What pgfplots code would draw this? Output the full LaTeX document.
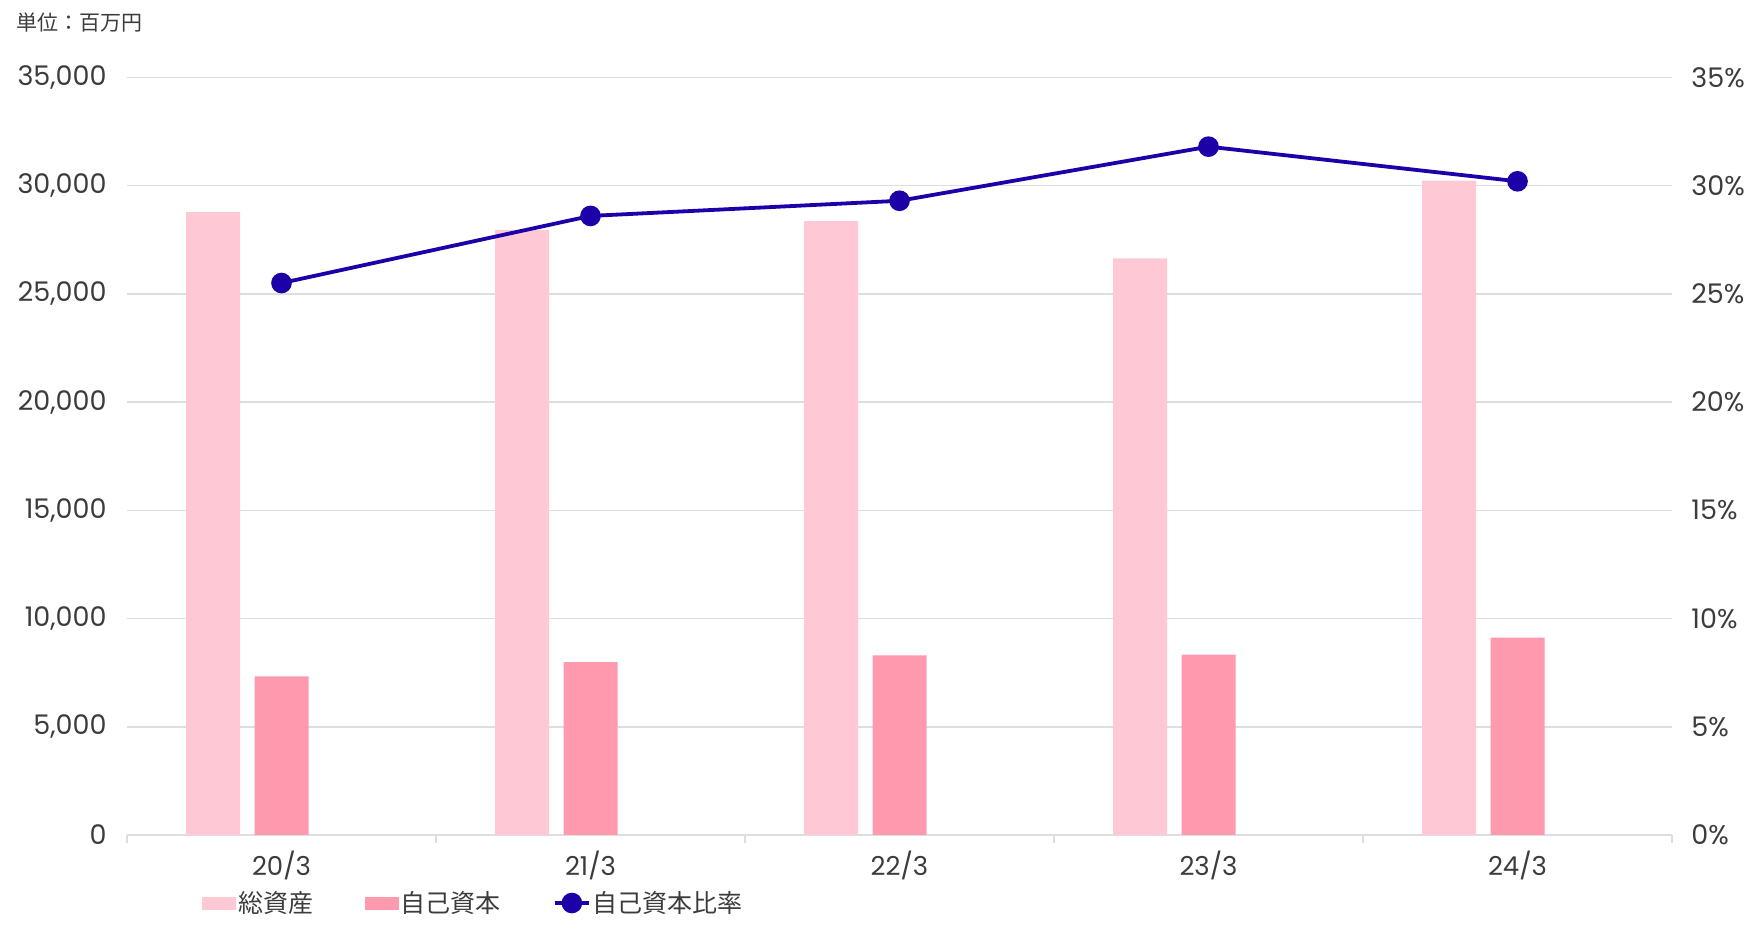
\documentclass[border=0pt]{standalone}
\usepackage{fontspec}
\usepackage{pgfplots}
\pgfplotsset{compat=1.18}
\newfontfamily\jp{Noto Sans CJK JP}
\newfontfamily\pop{Poppins}
\definecolor{cA}{RGB}{255,200,213}
\definecolor{cB}{RGB}{255,153,174}
\definecolor{cL}{RGB}{28,0,168}
\definecolor{gridc}{RGB}{222,222,222}
\definecolor{txt}{RGB}{60,60,60}
\begin{document}
\begin{tikzpicture}
\useasboundingbox (0,0) rectangle (880pt,467.5pt);
\begin{axis}[
  at={(63.5pt,50pt)}, anchor=south west,
  scale only axis, width=772.5pt, height=378.8pt,
  xmin=-0.5, xmax=4.5, ymin=0, ymax=35000,
  axis x line*=bottom, axis y line*=left,
  y axis line style={draw=none},
  x axis line style={draw=gridc, line width=0.8pt},
  xtick={0,1,2,3,4},
  xticklabels={20/3,21/3,22/3,23/3,24/3},
  minor xtick={-0.5,0.5,1.5,2.5,3.5,4.5},
  major tick length=0pt, minor tick length=4pt,
  xtick align=outside,
  minor tick style={draw=gridc, line width=0.8pt},
  ytick={0,5000,...,35000},
  scaled y ticks=false,
  ytick style={draw=none},
  ymajorgrids, major grid style={draw=gridc, line width=0.8pt},
  /pgf/number format/assume math mode=true,
  /pgf/number format/fixed,
  /pgf/number format/1000 sep={,},
  yticklabel style={font=\pop\fontsize{13.5}{14}\selectfont, text=txt, anchor=east, inner sep=0pt, xshift=-10pt},
  xticklabel style={font=\pop\fontsize{13}{14}\selectfont, text=txt, inner sep=0pt, anchor=north, yshift=-8pt},
  clip=false,
]
\addplot[ybar, bar width=27pt, bar shift=-34.25pt, fill=cA, draw=none] coordinates {(0,28780) (1,27950) (2,28360) (3,26640) (4,30230)};
\addplot[ybar, bar width=27pt, bar shift=0pt, fill=cB, draw=none] coordinates {(0,7330) (1,7990) (2,8300) (3,8330) (4,9120)};
\end{axis}
\begin{axis}[
  at={(63.5pt,50pt)}, anchor=south west,
  scale only axis, width=772.5pt, height=378.8pt,
  xmin=-0.5, xmax=4.5, ymin=0, ymax=35,
  axis x line=none, axis y line*=right,
  y axis line style={draw=none},
  ytick={0,5,...,35}, ytick style={draw=none}, major tick length=0pt,
  yticklabel={\pgfmathprintnumber{\tick}\%},
  /pgf/number format/assume math mode=true,
  yticklabel style={font=\pop\fontsize{13.5}{14}\selectfont, text=txt, anchor=west, inner sep=0pt, xshift=9.5pt},
  clip=false,
  legend style={at={(0.0485,-0.0898)}, anchor=west, draw=none, fill=none, inner sep=0pt,
    font=\jp\fontsize{12.5}{13}\selectfont, text=txt,
    nodes={inner sep=1pt},
    /tikz/every even column/.append style={column sep=25pt}},
  legend columns=3,
  legend cell align=left,
]
\addlegendimage{legend image code/.code={\fill[cA] (0pt,-3pt) rectangle (16.5pt,3pt);}}
\addlegendentry{総資産}
\addlegendimage{legend image code/.code={\fill[cB] (0pt,-3pt) rectangle (16.5pt,3pt);}}
\addlegendentry{自己資本}
\addplot[cL, line width=1.9pt, mark=*, mark size=4.2pt, mark options={solid, fill=cL, draw=cL}] coordinates {(0,25.5) (1,28.6) (2,29.3) (3,31.8) (4,30.2)};
\addlegendentry{自己資本比率}
\end{axis}
\node[anchor=west, inner sep=0pt, font=\jp\fontsize{10.5}{11}\selectfont, text=txt] at (8pt,456.2pt) {単位：百万円};
\end{tikzpicture}
\end{document}
